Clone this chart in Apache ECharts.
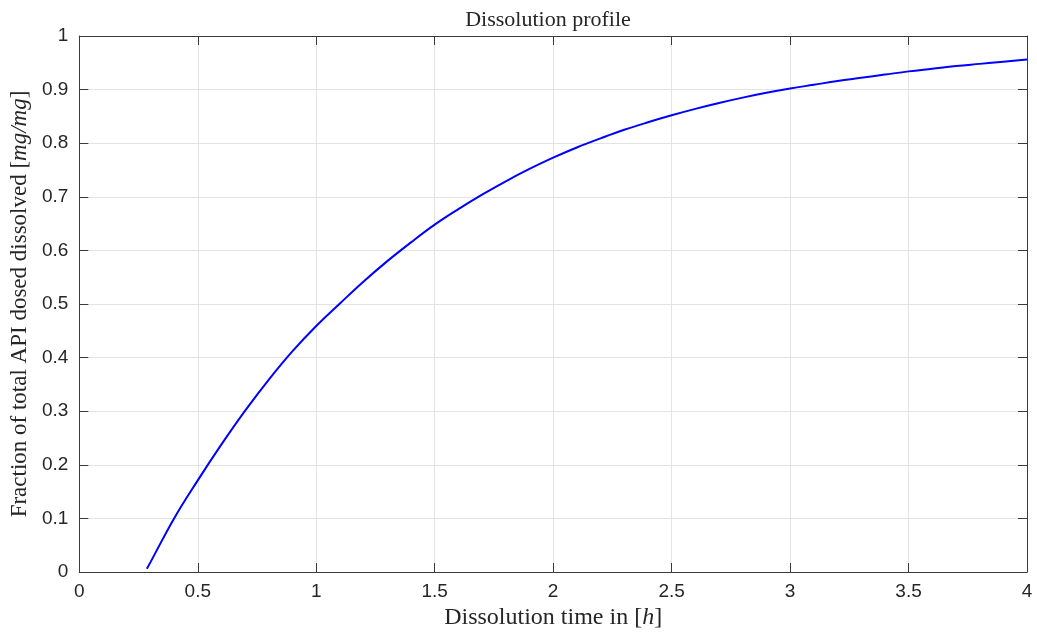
<!DOCTYPE html>
<html>
<head>
<meta charset="utf-8">
<title>Dissolution profile</title>
<script src="https://cdn.jsdelivr.net/npm/echarts@6/dist/echarts.min.js"></script>
<style>
  html, body { margin: 0; padding: 0; background: #ffffff; }
  #chart { width: 1037px; height: 635px; }
</style>
</head>
<body>
<div id="chart"></div>
<script>
// Dissolution time samples [h]
const times = [0.285, 0.3, 0.4, 0.5, 0.6, 0.7, 0.8, 0.9, 1.0, 1.1, 1.2, 1.3, 1.4,
  1.5, 1.6, 1.7, 1.8, 1.9, 2.0, 2.1, 2.2, 2.3, 2.4, 2.5, 2.6, 2.7, 2.8, 2.9,
  3.0, 3.1, 3.2, 3.3, 3.4, 3.5, 3.6, 3.7, 3.8, 3.9, 4.0];
// Fraction of total API dosed that is dissolved [mg/mg]
const fractionDissolved = [0.006, 0.018, 0.100, 0.171, 0.238, 0.301, 0.359, 0.412, 0.459,
  0.501, 0.542, 0.580, 0.615, 0.648, 0.677, 0.704, 0.729, 0.752, 0.773, 0.792,
  0.809, 0.825, 0.839, 0.852, 0.864, 0.875, 0.885, 0.894, 0.902, 0.909, 0.916,
  0.922, 0.928, 0.934, 0.939, 0.944, 0.948, 0.952, 0.956];
// Axis tick values
const xTicks = [0, 0.5, 1, 1.5, 2, 2.5, 3, 3.5, 4];
const yTicks = [0, 0.1, 0.2, 0.3, 0.4, 0.5, 0.6, 0.7, 0.8, 0.9, 1];

const chartTitle = 'Dissolution profile';
const xLabel = 'Dissolution time in ';
const xUnit = 'h';
const yLabel = 'Fraction of total API dosed dissolved ';
const yUnit = 'mg/mg';

const serif = '"Liberation Serif", "Times New Roman", serif';
const sans = '"Liberation Sans", Arial, Helvetica, sans-serif';
const axisColor = '#3a3a3a';
const gridColor = '#e3e3e3';

const chart = echarts.init(document.getElementById('chart'), null, { renderer: 'canvas' });

const xStep = xTicks[1] - xTicks[0];
const yStep = +(yTicks[1] - yTicks[0]).toFixed(10);

function unitRich(size) {
  return {
    r: { fontFamily: serif, fontSize: size, color: '#262626' },
    i: { fontFamily: serif, fontSize: size, color: '#262626', fontStyle: 'italic' }
  };
}

const option = {
  animation: false,
  backgroundColor: '#ffffff',
  title: {
    text: chartTitle,
    left: 543,
    top: 4,
    textAlign: 'center',
    textStyle: { fontFamily: serif, fontSize: 22, fontWeight: 'normal', color: '#262626' }
  },
  grid: { left: 77, right: 10, top: 36, bottom: 62, containLabel: false },
  xAxis: [
    {
      type: 'value',
      min: xTicks[0],
      max: xTicks[xTicks.length - 1],
      interval: xStep,
      name: '{r|' + xLabel + '[}{i|' + xUnit + '}{r|]}',
      nameLocation: 'middle',
      nameGap: 34,
      nameTextStyle: { rich: unitRich(24) },
      axisLine: { show: true, lineStyle: { color: axisColor, width: 1 } },
      axisTick: { show: true, inside: true, length: 9, lineStyle: { color: axisColor } },
      axisLabel: {
        show: true, margin: 10, color: '#262626', fontFamily: sans, fontSize: 19,
        formatter: v => String(+v.toFixed(2))
      },
      splitLine: { show: true, lineStyle: { color: gridColor, width: 1 } }
    },
    {
      type: 'value',
      position: 'top',
      min: xTicks[0],
      max: xTicks[xTicks.length - 1],
      interval: xStep,
      axisLine: { show: true, onZero: false, lineStyle: { color: axisColor, width: 1 } },
      axisTick: { show: true, inside: true, length: 9, lineStyle: { color: axisColor } },
      axisLabel: { show: false },
      splitLine: { show: false }
    }
  ],
  yAxis: [
    {
      type: 'value',
      min: yTicks[0],
      max: yTicks[yTicks.length - 1],
      interval: yStep,
      name: '{r|' + yLabel + '[}{i|' + yUnit + '}{r|]}',
      nameLocation: 'middle',
      nameRotate: 90,
      nameGap: 44,
      nameTextStyle: { rich: unitRich(23) },
      axisLine: { show: true, lineStyle: { color: axisColor, width: 1 } },
      axisTick: { show: true, inside: true, length: 9, lineStyle: { color: axisColor } },
      axisLabel: {
        show: true, margin: 11, color: '#262626', fontFamily: sans, fontSize: 19,
        formatter: v => String(+v.toFixed(2))
      },
      splitLine: { show: true, lineStyle: { color: gridColor, width: 1 } }
    },
    {
      type: 'value',
      position: 'right',
      min: yTicks[0],
      max: yTicks[yTicks.length - 1],
      interval: yStep,
      axisLine: { show: true, onZero: false, lineStyle: { color: axisColor, width: 1 } },
      axisTick: { show: true, inside: true, length: 9, lineStyle: { color: axisColor } },
      axisLabel: { show: false },
      splitLine: { show: false }
    }
  ],
  series: [
    {
      type: 'line',
      xAxisIndex: 0,
      yAxisIndex: 0,
      data: times.map((t, i) => [t, fractionDissolved[i]]),
      showSymbol: false,
      smooth: 0.4,
      lineStyle: { color: '#0000ff', width: 2 },
      itemStyle: { color: '#0000ff' }
    }
  ]
};

chart.setOption(option);
</script>
</body>
</html>
